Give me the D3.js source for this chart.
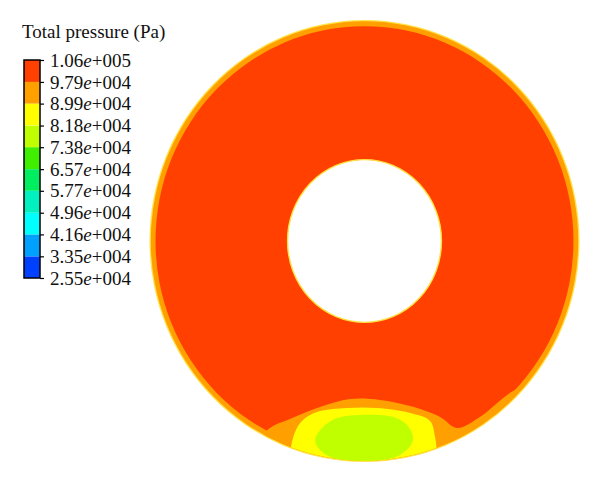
<!DOCTYPE html>
<html>
<head>
<meta charset="utf-8">
<script src="https://cdn.jsdelivr.net/npm/d3@7"></script>
<style>
  html, body { margin: 0; padding: 0; background: #fff; }
  svg { display: block; }
</style>
</head>
<body>
<svg id="chart" width="600" height="482"></svg>
<script>
// ---------------- DATA ----------------
const title = "Total pressure (Pa)";
const levelValues = [25500, 33500, 41600, 49600, 57700, 65700, 73800, 81800, 89900, 97900, 106000];
const tickLabels = ["2.55e+004","3.35e+004","4.16e+004","4.96e+004","5.77e+004","6.57e+004","7.38e+004","8.18e+004","8.99e+004","9.79e+004","1.06e+005"];
const bandColors = ["#0040ff","#00a0ff","#00ffff","#00f0c0","#00ee60","#40ee00","#bfff00","#ffff00","#ffa000","#ff4000"];

// geometry of the domain (normalized radius units)
const outerRadius = 1.0;
const rimRadius = 0.994;
const coreRadius = 0.972;           // inner edge of the orange wall layer
const holeRadius = [0.358, 0.368];  // inner pipe hole (x, y)

// contour regions near the bottom: polygons in normalized coords
const orangeRegion = [[-0.509,-0.923],[-0.440,-0.846],[-0.347,-0.805],[-0.207,-0.751],[-0.067,-0.715],
  [0.072,-0.719],[0.212,-0.747],[0.351,-0.796],[0.430,-0.846],[0.537,-0.796],[0.691,-0.679],
  [0.840,-0.629],[0.840,-1.059],[-0.509,-1.059]];
const yellowRegion = [[-0.347,-0.968],[-0.323,-0.864],[-0.286,-0.810],[-0.221,-0.774],[-0.081,-0.756],
  [0.058,-0.756],[0.212,-0.778],[0.305,-0.814],[0.328,-0.887],[0.337,-0.968],[0.337,-1.059],[-0.347,-1.059]];
const limeRegion = [[-0.207,-0.946],[-0.230,-0.900],[-0.193,-0.842],[-0.128,-0.801],[-0.021,-0.787],
  [0.133,-0.796],[0.198,-0.833],[0.226,-0.900],[0.165,-0.968],[0.058,-0.995],[-0.021,-1.005],[-0.147,-0.982]];
const regions = [
  {band: 8, pts: orangeRegion},
  {band: 7, pts: yellowRegion},
  {band: 6, pts: limeRegion}
];

// ---------------- DRAW ----------------
const svg = d3.select("#chart");
const cx = 364.5, cy = 241, rx = 215, ry = 221;
const x = d3.scaleLinear().domain([-1, 1]).range([cx - rx, cx + rx]);
const y = d3.scaleLinear().domain([-1, 1]).range([cy + ry, cy - ry]);
const ex = r => x(r) - x(0);
const ey = r => y(0) - y(r);

const defs = svg.append("defs");
defs.append("clipPath").attr("id", "domainClip")
  .append("ellipse").attr("cx", x(0)).attr("cy", y(0)).attr("rx", ex(rimRadius)).attr("ry", ey(rimRadius));

const g = svg.append("g");
g.append("ellipse").attr("cx", x(0)).attr("cy", y(0)).attr("rx", ex(outerRadius)).attr("ry", ey(outerRadius))
  .attr("fill", "#ffe24a");
g.append("ellipse").attr("cx", x(0)).attr("cy", y(0)).attr("rx", ex(rimRadius)).attr("ry", ey(rimRadius))
  .attr("fill", bandColors[8]);
g.append("ellipse").attr("cx", x(0)).attr("cy", y(0)).attr("rx", ex(coreRadius)).attr("ry", ey(coreRadius))
  .attr("fill", bandColors[9]);

const line = d3.line().x(d => x(d[0])).y(d => y(d[1])).curve(d3.curveCatmullRomClosed.alpha(0.5));
const rg = g.append("g").attr("clip-path", "url(#domainClip)");
rg.selectAll("path.region").data(regions).join("path")
  .attr("class", "region")
  .attr("d", d => line(d.pts))
  .attr("fill", d => bandColors[d.band]);

// hole
g.append("ellipse").attr("cx", x(0)).attr("cy", y(0))
  .attr("rx", ex(holeRadius[0])).attr("ry", ey(holeRadius[1]))
  .attr("fill", "#ffffff").attr("stroke", "#ffe040").attr("stroke-width", 1.4);

// ---------------- LEGEND ----------------
const lg = svg.append("g");
const barX = 24, barW = 16, barTop = 60, barBottom = 278;
const ly = d3.scaleLinear().domain([levelValues[0], levelValues[levelValues.length - 1]]).range([barBottom, barTop]);

lg.selectAll("rect.band").data(bandColors).join("rect")
  .attr("class", "band")
  .attr("x", barX)
  .attr("y", (d, i) => ly(levelValues[i + 1]))
  .attr("width", barW)
  .attr("height", (d, i) => ly(levelValues[i]) - ly(levelValues[i + 1]))
  .attr("fill", d => d);
lg.append("rect").attr("x", barX).attr("y", barTop).attr("width", barW).attr("height", barBottom - barTop)
  .attr("fill", "none").attr("stroke", "#000").attr("stroke-width", 1.5);

const axis = d3.axisRight(ly).tickValues(levelValues).tickSize(4).tickPadding(6).tickFormat((d, i) => tickLabels[i]);
const ax = lg.append("g").attr("transform", `translate(${barX + barW},0)`).call(axis);
ax.select(".domain").remove();
ax.selectAll(".tick line").attr("stroke", "#000").attr("stroke-width", 1.2);
ax.selectAll(".tick text")
  .attr("font-family", "'Liberation Serif', 'DejaVu Serif', serif")
  .attr("font-size", 19)
  .attr("fill", "#111")
  .each(function(d, i) {
    const s = tickLabels[i];
    const k = s.indexOf("e");
    const t = d3.select(this).text(null);
    t.append("tspan").text(s.slice(0, k));
    t.append("tspan").attr("font-style", "italic").text("e");
    t.append("tspan").text(s.slice(k + 1));
  });

svg.append("text").attr("x", 22).attr("y", 38)
  .attr("font-family", "'Liberation Serif', 'DejaVu Serif', serif")
  .attr("font-size", 19).attr("fill", "#111")
  .text(title);
</script>
</body>
</html>
